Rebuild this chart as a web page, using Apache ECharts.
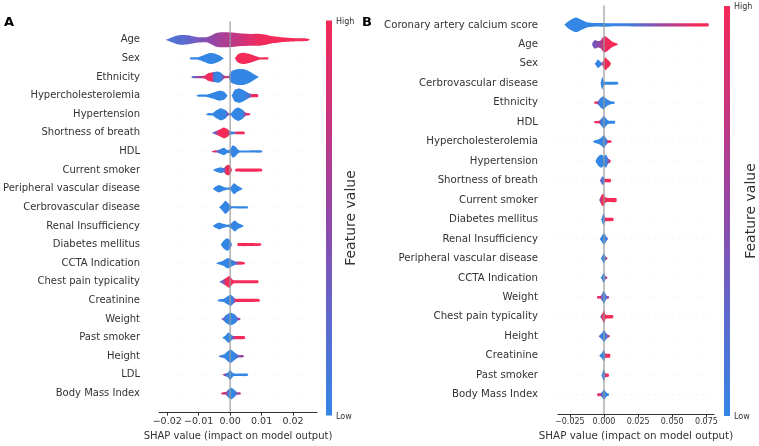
<!DOCTYPE html>
<html><head><meta charset="utf-8">
<script src="https://cdn.jsdelivr.net/npm/echarts@6/dist/echarts.min.js"></script>
<style>html,body{margin:0;padding:0;background:#fff}#c{width:759px;height:446px}</style>
</head><body><div id="c"></div>
<script>
// ---------- data ----------
const featuresA = ['Age','Sex','Ethnicity','Hypercholesterolemia','Hypertension','Shortness of breath','HDL','Current smoker','Peripheral vascular disease','Cerbrovascular disease','Renal Insufficiency','Diabetes mellitus','CCTA Indication','Chest pain typicality','Creatinine','Weight','Past smoker','Height','LDL','Body Mass Index'];
const featuresB = ['Coronary artery calcium score','Age','Sex','Cerbrovascular disease','Ethnicity','HDL','Hypercholesterolemia','Hypertension','Shortness of breath','Current smoker','Diabetes mellitus','Renal Insufficiency','Peripheral vascular disease','CCTA Indication','Weight','Chest pain typicality','Height','Creatinine','Past smoker','Body Mass Index'];
const ticksA = [-0.02,-0.01,0,0.01,0.02];
const ticksB = [-0.025,0,0.025,0.05,0.075];

// violin outlines per feature: list of blobs, each blob = [shap value, half-height (row units), feature value 0..1]
const violinsA = [
 [[[-0.0205,0,0.15],[-0.0190,0.09,0.15],[-0.0165,0.22,0.2],[-0.0140,0.23,0.25],[-0.0107,0.14,0.35],[-0.0076,0.12,0.45],[-0.0060,0.21,0.5],[-0.0045,0.33,0.55],[-0.0025,0.36,0.6],[0.0005,0.35,0.68],[0.0037,0.30,0.78],[0.0065,0.28,0.88],[0.0090,0.29,0.95],[0.0115,0.24,1],[0.0130,0.18,1],[0.0171,0.11,1],[0.0213,0.07,1],[0.0245,0.06,1],[0.0254,0,1]]],
 [[[-0.0128,0,0],[-0.0125,0.03,0],[-0.0105,0.05,0],[-0.0090,0.12,0],[-0.0065,0.26,0],[-0.0050,0.24,0],[-0.0035,0.15,0],[-0.0020,0,0]],
  [[0.0015,0,1],[0.0025,0.2,1],[0.0040,0.27,1],[0.0060,0.22,1],[0.0080,0.12,1],[0.0095,0.05,1],[0.0120,0.03,1],[0.0122,0,1]]],
 [[[-0.0125,0,0.2],[-0.0118,0.03,0.2],[-0.0100,0.05,0.55],[-0.0080,0.08,0.85],[-0.0070,0.18,1],[-0.0058,0.22,1],[-0.0052,0.24,0.1],[-0.0040,0.27,0],[-0.0030,0.22,0],[-0.0018,0.06,0.6],[-0.0010,0.04,1],[-0.0004,0.06,0.3],[0.0002,0.25,0],[0.0020,0.37,0],[0.0040,0.38,0],[0.0060,0.28,0],[0.0080,0.10,0],[0.0092,0,0]]],
 [[[-0.0107,0,0],[-0.0100,0.04,0],[-0.0075,0.06,0],[-0.0055,0.14,0],[-0.0035,0.24,0],[-0.0020,0.2,0],[-0.0008,0,0]],
  [[0.0005,0,0],[0.0015,0.28,0],[0.0030,0.34,0],[0.0045,0.24,0],[0.0062,0.10,0.2],[0.0070,0.08,1],[0.0088,0.07,1],[0.0090,0,1]]],
 [[[-0.0078,0,0],[-0.0070,0.04,0],[-0.0055,0.06,0],[-0.0045,0.18,0],[-0.0030,0.29,0],[-0.0015,0.2,0],[-0.0005,0.04,0.5],[0.0003,0.06,0],[0.0012,0.22,0],[0.0025,0.32,0],[0.0040,0.2,0],[0.0050,0.07,0.7],[0.0058,0.06,1],[0.0066,0,1]]],
 [[[-0.0058,0,0],[-0.0050,0.05,0.3],[-0.0035,0.15,1],[-0.0020,0.26,1],[-0.0008,0.18,1],[0.0000,0.08,0.1],[0.0012,0.06,0],[0.0018,0.06,0.9],[0.0045,0.06,1],[0.0047,0,1]]],
 [[[-0.0060,0,1],[-0.0050,0.05,1],[-0.0040,0.06,0.3],[-0.0030,0.12,0],[-0.0020,0.18,0],[-0.0010,0.08,0],[0.0000,0.1,0],[0.0008,0.30,0],[0.0018,0.22,0],[0.0028,0.06,0],[0.0060,0.04,0],[0.0100,0.04,0],[0.0103,0,0]]],
 [[[-0.0055,0,0],[-0.0045,0.08,0],[-0.0030,0.14,0],[-0.0020,0.10,0.2],[-0.0012,0.22,1],[-0.0003,0.25,1],[0.0003,0.12,1],[0.0006,0,1]],
  [[0.0015,0,1],[0.0018,0.07,1],[0.0100,0.07,1],[0.0103,0,1]]],
 [[[-0.0055,0,0],[-0.0045,0.12,0],[-0.0035,0.18,0],[-0.0022,0.1,0],[-0.0010,0.03,0],[0.0002,0.08,0],[0.0012,0.26,0],[0.0022,0.16,0],[0.0035,0.05,0],[0.0040,0,0]]],
 [[[-0.0035,0,0],[-0.0025,0.15,0],[-0.0015,0.32,0],[-0.0005,0.18,0],[0.0005,0.05,0],[0.0020,0.04,0],[0.0055,0.03,0],[0.0057,0,0]]],
 [[[-0.0055,0,0],[-0.0045,0.1,0],[-0.0035,0.17,0],[-0.0022,0.1,0],[-0.0010,0.03,0],[0.0002,0.1,0],[0.0014,0.26,0],[0.0025,0.14,0],[0.0038,0.05,0],[0.0043,0,0]]],
 [[[-0.0030,0,0],[-0.0020,0.2,0],[-0.0008,0.3,0],[0.0002,0.15,0],[0.0006,0,0]],
  [[0.0022,0,1],[0.0025,0.07,1],[0.0097,0.06,1],[0.0099,0,1]]],
 [[[-0.0045,0,0],[-0.0035,0.06,0],[-0.0022,0.12,0],[-0.0008,0.25,0],[0.0008,0.14,0],[0.0018,0.08,0.3],[0.0030,0.08,1],[0.0045,0.04,1],[0.0047,0,1]]],
 [[[-0.0035,0,0],[-0.0025,0.08,0.3],[-0.0012,0.2,1],[-0.0002,0.28,1],[0.0008,0.1,1],[0.0015,0.07,1],[0.0088,0.07,1],[0.0091,0,1]]],
 [[[-0.0040,0,0],[-0.0035,0.04,0],[-0.0020,0.08,0],[-0.0008,0.2,0],[0.0002,0.27,0],[0.0012,0.14,0.2],[0.0018,0.08,1],[0.0092,0.07,1],[0.0095,0,1]]],
 [[[-0.0030,0,0.5],[-0.0022,0.05,0.3],[-0.0012,0.2,0],[0.0002,0.3,0],[0.0015,0.22,0],[0.0025,0.06,0.3],[0.0030,0.04,0.7],[0.0034,0,0.7]]],
 [[[-0.0025,0,0],[-0.0015,0.1,0],[-0.0005,0.25,0],[0.0005,0.12,0],[0.0012,0.08,0.6],[0.0020,0.08,1],[0.0046,0.07,1],[0.0048,0,1]]],
 [[[-0.0038,0,0.2],[-0.0030,0.05,0.1],[-0.0018,0.1,0],[-0.0008,0.24,0],[0.0002,0.32,0],[0.0014,0.18,0],[0.0026,0.06,0.3],[0.0040,0.06,0.6],[0.0045,0,0.6]]],
 [[[-0.0025,0,0.6],[-0.0018,0.05,0.5],[-0.0008,0.1,0],[0.0000,0.25,0],[0.0008,0.1,0],[0.0015,0.06,0],[0.0055,0.06,0],[0.0057,0,0]]],
 [[[-0.0030,0,1],[-0.0025,0.05,0.9],[-0.0012,0.08,0.6],[-0.0005,0.2,0],[0.0005,0.28,0],[0.0015,0.15,0],[0.0022,0.06,0.4],[0.0032,0.05,0.7],[0.0035,0,0.7]]]
];
const violinsB = [
 [[[-0.0290,0,0],[-0.0270,0.12,0],[-0.0240,0.25,0],[-0.0205,0.34,0],[-0.0170,0.25,0],[-0.0130,0.13,0],[-0.0100,0.1,0],[-0.0060,0.08,0],[-0.0010,0.09,0],[0.0050,0.07,0],[0.0200,0.07,0.1],[0.0350,0.07,0.4],[0.0450,0.07,0.6],[0.0600,0.07,0.85],[0.0680,0.07,1],[0.0765,0.07,1],[0.0768,0,1]]],
 [[[-0.0088,0,0.35],[-0.0080,0.12,0.35],[-0.0065,0.2,0.4],[-0.0045,0.15,0.45],[-0.0025,0.18,0.6],[-0.0008,0.32,0.8],[0.0008,0.37,0.95],[0.0030,0.28,1],[0.0050,0.18,1],[0.0070,0.1,1],[0.0090,0.05,1],[0.0105,0,1]]],
 [[[-0.0068,0,0],[-0.0060,0.06,0],[-0.0045,0.2,0],[-0.0030,0.12,0],[-0.0015,0.05,0.3],[-0.0005,0.15,1],[0.0010,0.3,1],[0.0025,0.2,1],[0.0040,0.12,1],[0.0052,0,1]]],
 [[[-0.0025,0,0],[-0.0018,0.2,0],[-0.0012,0.3,0],[-0.0005,0.15,0],[0.0005,0.07,0],[0.0100,0.06,0],[0.0105,0,0]]],
 [[[-0.0072,0,1],[-0.0068,0.05,1],[-0.0050,0.06,0.8],[-0.0040,0.1,0.2],[-0.0025,0.22,0],[-0.0005,0.3,0],[0.0015,0.2,0],[0.0030,0.12,0],[0.0050,0.07,0],[0.0076,0.05,0],[0.0078,0,0]]],
 [[[-0.0072,0,1],[-0.0068,0.05,1],[-0.0035,0.06,0.9],[-0.0025,0.12,0.2],[-0.0012,0.22,0],[0.0000,0.3,0],[0.0015,0.18,0],[0.0030,0.08,0],[0.0080,0.06,0],[0.0082,0,0]]],
 [[[-0.0080,0,0],[-0.0070,0.05,0],[-0.0045,0.1,0],[-0.0020,0.18,0],[0.0000,0.3,0],[0.0015,0.15,0],[0.0025,0.08,0.6],[0.0035,0.06,1],[0.0052,0.05,1],[0.0055,0,1]]],
 [[[-0.0062,0,0],[-0.0055,0.1,0],[-0.0040,0.22,0],[-0.0020,0.3,0],[0.0000,0.22,0],[0.0015,0.3,0],[0.0030,0.12,0.3],[0.0045,0.06,1],[0.0052,0,1]]],
 [[[-0.0030,0,0.4],[-0.0022,0.1,0.3],[-0.0010,0.2,0.1],[0.0002,0.12,0.2],[0.0010,0.08,1],[0.0048,0.08,1],[0.0051,0,1]]],
 [[[-0.0035,0,0],[-0.0028,0.1,0.4],[-0.0018,0.22,1],[-0.0005,0.3,1],[0.0008,0.15,1],[0.0015,0.1,1],[0.0090,0.09,1],[0.0093,0,1]]],
 [[[-0.0020,0,0],[-0.0012,0.15,0],[-0.0004,0.27,0],[0.0006,0.12,0.3],[0.0012,0.08,1],[0.0068,0.07,1],[0.0071,0,1]]],
 [[[-0.0032,0,0],[-0.0022,0.08,0],[-0.0010,0.2,0],[0.0003,0.26,0],[0.0015,0.12,0],[0.0025,0.05,0.3],[0.0030,0,0.3]]],
 [[[-0.0022,0,0],[-0.0012,0.12,0],[-0.0002,0.24,0],[0.0008,0.12,0],[0.0016,0.06,0.6],[0.0022,0.04,1],[0.0025,0,1]]],
 [[[-0.0025,0,0],[-0.0015,0.08,0],[-0.0005,0.22,0],[0.0005,0.15,0],[0.0012,0.06,0.4],[0.0022,0.05,1],[0.0025,0,1]]],
 [[[-0.0052,0,1],[-0.0048,0.06,1],[-0.0025,0.06,0.8],[-0.0015,0.15,0.2],[-0.0002,0.3,0],[0.0010,0.18,0],[0.0020,0.07,0.4],[0.0035,0.05,0.5],[0.0038,0,0.5]]],
 [[[-0.0028,0,0],[-0.0022,0.06,0.3],[-0.0012,0.15,1],[0.0000,0.3,1],[0.0010,0.12,1],[0.0018,0.08,1],[0.0066,0.07,1],[0.0068,0,1]]],
 [[[-0.0040,0,0.4],[-0.0030,0.06,0.2],[-0.0015,0.15,0],[0.0000,0.27,0],[0.0015,0.15,0.1],[0.0030,0.06,0.6],[0.0040,0.05,0.7],[0.0043,0,0.7]]],
 [[[-0.0035,0,0],[-0.0028,0.05,0],[-0.0015,0.12,0],[-0.0003,0.27,0],[0.0008,0.12,0.3],[0.0015,0.09,1],[0.0044,0.08,1],[0.0047,0,1]]],
 [[[-0.0018,0,0],[-0.0010,0.15,0],[-0.0001,0.27,0],[0.0008,0.12,0.3],[0.0014,0.08,1],[0.0034,0.07,1],[0.0037,0,1]]],
 [[[-0.0050,0,1],[-0.0045,0.07,1],[-0.0025,0.06,0.7],[-0.0012,0.14,0.1],[0.0000,0.24,0],[0.0012,0.14,0],[0.0025,0.06,0],[0.0035,0.04,0],[0.0037,0,0]]]
];

// ---------- styling ----------
const FONT = 'DejaVu Sans';
const WSCALE = 1.12;
const CMAP = [[0,[52,134,228]],[0.25,[95,104,205]],[0.5,[145,72,168]],[0.75,[200,52,126]],[1,[244,42,88]]];
function cmap(t){
  t=Math.max(0,Math.min(1,t));
  for(let k=1;k<CMAP.length;k++){
    if(t<=CMAP[k][0]){
      const a=CMAP[k-1],b=CMAP[k],f=(t-a[0])/(b[0]-a[0]);
      const c=a[1].map((v,j)=>Math.round(v+(b[1][j]-v)*f));
      return 'rgb('+c.join(',')+')';
    }
  }
  return 'rgb('+CMAP[CMAP.length-1][1].join(',')+')';
}
function makeRender(violins){
  return function(params, api){
    const i = params.dataIndex;
    const cs = params.coordSys;
    const y0 = api.coord([0,i])[1];
    const band = Math.abs(api.coord([0,i+1])[1]-y0);
    const children = [{type:'line', shape:{x1:cs.x,y1:y0,x2:cs.x+cs.width,y2:y0}, style:{stroke:'#d8d8d8',lineWidth:0.5,lineDash:[1,5]}}];
    violins[i].forEach(blob=>{
      const top=[], bot=[];
      blob.forEach(p=>{const x=api.coord([p[0],i])[0]; const h=Math.max(p[1]*band*WSCALE, p[1]>0?1.1:0); top.push([x,y0-h]); bot.push([x,y0+h]);});
      const xa=top[0][0], xb=top[top.length-1][0];
      const stops=blob.map((p,k)=>({offset:Math.max(0,Math.min(1,(top[k][0]-xa)/(xb-xa))),color:cmap(p[2])}));
      const pts=top.concat(bot.slice().reverse());
      children.push({type:'polygon',shape:{points:pts,smooth:0.2},style:{fill:new echarts.graphic.LinearGradient(xa,0,xb,0,stops,true),stroke:null}});
    });
    return {type:'group',children};
  };
}
function zeroLine(params, api){
  const cs=params.coordSys; const x=api.coord([0,0])[0];
  return {type:'line',shape:{x1:x,y1:cs.y,x2:x,y2:cs.y+cs.height},style:{stroke:'#9a9a9a',lineWidth:1.4,opacity:0.85}};
}
function fmt(d){return v=>(v<0?'\u2212':'')+Math.abs(v).toFixed(d);}
function xAxisCfg(g,min,max,ticks,d,tickFont,nameFont){
  return {gridIndex:g,type:'value',min:min,max:max,splitLine:{show:false},
    axisLine:{onZero:false,lineStyle:{color:'#333',width:1}},
    axisTick:{customValues:ticks,length:3.5,lineStyle:{color:'#333'}},
    axisLabel:{customValues:ticks,formatter:fmt(d),fontSize:tickFont,color:'#333',margin:4,fontFamily:FONT},
    name:'SHAP value (impact on model output)',nameLocation:'middle',nameGap:15,
    nameTextStyle:{fontSize:nameFont,color:'#333',fontFamily:FONT}};
}
function yAxisCfg(g,names,font,margin){
  return {gridIndex:g,type:'value',min:-1,max:20,interval:1,inverse:true,
    axisLine:{show:false},axisTick:{show:false},splitLine:{show:false},
    axisLabel:{formatter:v=>names[v]||'',fontSize:font,color:'#333',margin:margin,fontFamily:FONT}};
}
const barStops=[0,0.25,0.5,0.75,1].map(t=>({offset:1-t,color:cmap(t)}));
function colorbar(x,y,h,tx,ty){
  return [
    {type:'rect',shape:{x:x,y:y,width:6,height:h},style:{fill:new echarts.graphic.LinearGradient(0,0,0,1,barStops)}},
    {type:'text',x:x+10,y:y+1,style:{text:'High',fontSize:8,fontFamily:FONT,fill:'#333',verticalAlign:'middle'}},
    {type:'text',x:x+10,y:y+h+1,style:{text:'Low',fontSize:8,fontFamily:FONT,fill:'#333',verticalAlign:'middle'}},
    {type:'text',x:tx,y:ty,rotation:Math.PI/2,style:{text:'Feature value',fontSize:14,fontFamily:FONT,fill:'#333',align:'center',verticalAlign:'middle'}}
  ];
}

const chart = echarts.init(document.getElementById('c'));
chart.setOption({
  animation:false,
  backgroundColor:'#fff',
  grid:[{left:155,top:21.2,width:162,height:394.8},{left:558,top:5.4,width:156,height:410.6}],
  xAxis:[xAxisCfg(0,-0.0226,0.0276,ticksA,2,9.5,10), xAxisCfg(1,-0.0337,0.0806,ticksB,3,8,10.3)],
  yAxis:[yAxisCfg(0,featuresA,10,19), yAxisCfg(1,featuresB,10.2,20)],
  series:[
    {type:'custom',xAxisIndex:0,yAxisIndex:0,data:featuresA.map((f,i)=>[0,i]),renderItem:makeRender(violinsA),z:2},
    {type:'custom',xAxisIndex:0,yAxisIndex:0,data:[[0,0]],renderItem:zeroLine,z:5},
    {type:'custom',xAxisIndex:1,yAxisIndex:1,data:featuresB.map((f,i)=>[0,i]),renderItem:makeRender(violinsB),z:2},
    {type:'custom',xAxisIndex:1,yAxisIndex:1,data:[[0,0]],renderItem:zeroLine,z:5}
  ],
  graphic:[
    {type:'text',x:4,y:23,style:{text:'A',fontSize:13,fontWeight:'bold',fontFamily:FONT,fill:'#000',verticalAlign:'middle'}},
    {type:'text',x:362,y:23,style:{text:'B',fontSize:13,fontWeight:'bold',fontFamily:FONT,fill:'#000',verticalAlign:'middle'}}
  ].concat(colorbar(326,20.5,395,351,218)).concat(colorbar(724,6,410,751,211))
});
</script></body></html>
